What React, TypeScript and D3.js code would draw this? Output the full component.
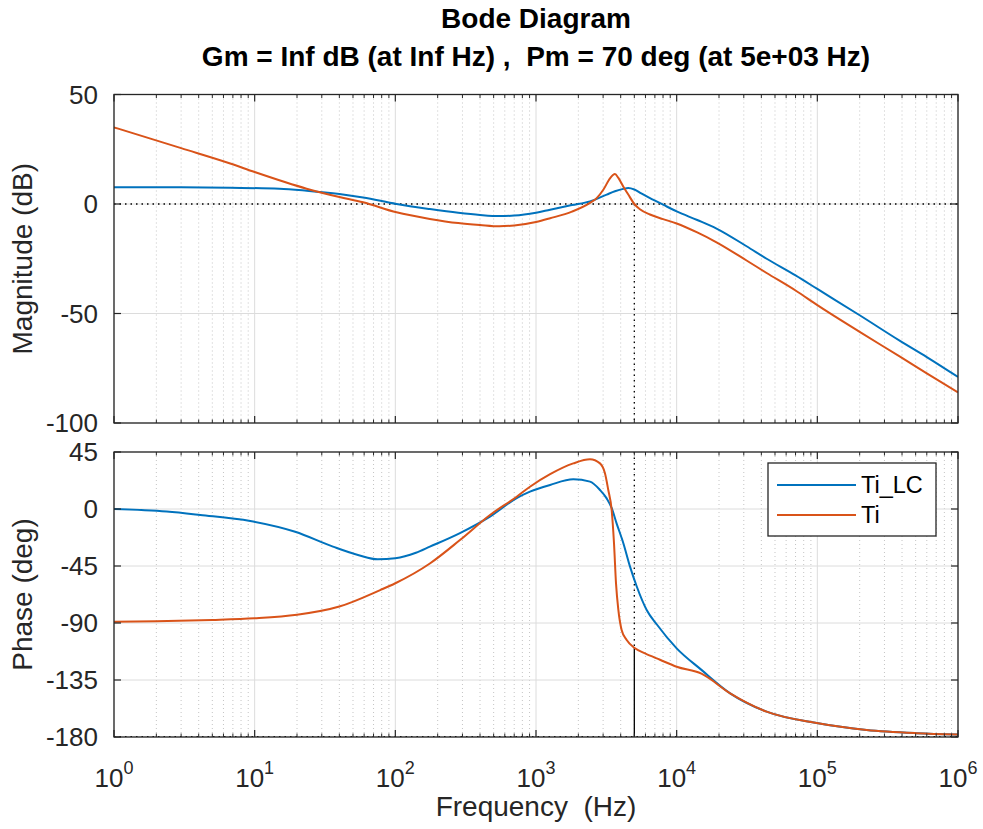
import React from "react";
import * as d3 from "d3";

// ---------- data ----------
const decadeExponents = [0, 1, 2, 3, 4, 5, 6];
const magTicks = [-100, -50, 0, 50];
const phaseTicks = [-180, -135, -90, -45, 0, 45];
const seriesNames = ["Ti_LC", "Ti"];

const magFreqLC = [1, 3, 6.7, 15, 23.4, 40, 59, 102, 176, 280, 400, 550, 700, 1000, 1260, 1800, 2420, 3180, 3640, 4170, 4530, 5000, 5600, 6460, 8000, 10000, 14000, 19200, 31400, 43600, 70000, 100000, 200000, 387000, 600000, 1000000];
const magLC = [7.6, 7.6, 7.4, 7.0, 6.1, 4.6, 3.0, 0.0, -2.3, -4.0, -5.0, -5.5, -5.3, -4.0, -2.6, -0.5, 1.2, 4.3, 5.8, 6.9, 7.3, 6.6, 4.8, 2.7, -0.3, -3.4, -7.3, -11.2, -19.3, -25.0, -32.6, -38.8, -50.8, -62.5, -69.9, -79];

const magFreqTi = [1, 3, 6.7, 10, 23.4, 40, 59, 102, 176, 280, 400, 550, 700, 1000, 1260, 1800, 2420, 2700, 3010, 3357, 3640, 3850, 4170, 4530, 5000, 5480, 6460, 8000, 10000, 14000, 19200, 31400, 43600, 70000, 100000, 200000, 387000, 600000, 1000000];
const magTi = [35, 25.5, 18.5, 14.6, 7.0, 3.2, 0.8, -3.8, -6.8, -8.7, -9.6, -10.2, -9.8, -8.2, -6.5, -3.5, 0.5, 2.7, 6.5, 11.7, 13.7, 11.9, 8.0, 4.3, 0.0, -2.4, -4.8, -6.9, -8.9, -13, -17.5, -25.8, -31.5, -39.5, -46.2, -58.4, -69.7, -77.3, -86];

const phaseFreqLC = [1, 2.37, 4.1, 9.3, 19.4, 36, 55, 75, 100, 140, 176, 288, 471, 729, 906, 1260, 1841, 2420, 2851, 3180, 3450, 3740, 4178, 4660, 5195, 6120, 7210, 10000, 15000, 24000, 43600, 98900, 224000, 508000, 1000000];
const phaseLC = [0, -2, -4.7, -9.5, -18, -29.7, -36.5, -39.7, -38.8, -34.5, -29.7, -19, -6, 8.6, 13.7, 19, 23.4, 21.6, 15, 8.4, 0.8, -11.3, -27, -45.5, -61, -79.7, -91, -110, -127, -145.5, -160, -169, -174.5, -177, -178];

const phaseFreqTi = [1, 2, 5, 10, 20, 40, 78, 100, 176, 288, 471, 729, 906, 1260, 1841, 2420, 2851, 3092, 3265, 3450, 3585, 3705, 3850, 4062, 4412, 5060, 5960, 7610, 10000, 15000, 24000, 43600, 98900, 224000, 508000, 1000000];
const phaseTi = [-89, -88.6, -87.6, -86.3, -83.5, -77, -64, -58.6, -43, -24.5, -4.7, 9.7, 17.6, 27.5, 36, 39.2, 36, 28.2, 15, -0.8, -27, -58.7, -79.7, -95.5, -103.4, -110, -114, -119, -124.5, -130, -145.5, -160, -169, -174.5, -177, -178];

const marginFreq = 5000;
const marginPhase = -110;
const titleLine1 = "Bode Diagram";
const titleLine2 = "Gm = Inf dB (at Inf Hz) ,  Pm = 70 deg (at 5e+03 Hz)";
const xLabel = "Frequency  (Hz)";
const magLabel = "Magnitude (dB)";
const phaseLabel = "Phase (deg)";

// ---------- layout ----------
const W = 983, H = 829;
const xL = 114, xR = 958;
const magTop = 94.5, magBot = 423;
const phTop = 452, phBot = 737;
const COLORS = ["#0072BD", "#D95319"];
const AXC = "#262626";
const FONT = "'Liberation Sans', Arial, Helvetica, sans-serif";
const TICK_FS = 26;

export default function App() {
  const x = d3.scaleLog().domain([1, 1e6]).range([xL, xR]);
  const yMag = d3.scaleLinear().domain([-100, 50]).range([magBot, magTop]);
  const yPh = d3.scaleLinear().domain([-180, 45]).range([phBot, phTop]);

  const minorFreqs: number[] = [];
  for (let d = 0; d < 6; d++) for (let k = 2; k <= 9; k++) minorFreqs.push(k * Math.pow(10, d));

  const mkLine = (y: any) =>
    d3.line<[number, number]>().x((d) => x(d[0])).y((d) => y(d[1])).curve(d3.curveMonotoneX);

  const magLine = mkLine(yMag);
  const phLine = mkLine(yPh);
  const zip = (a: number[], b: number[]) => a.map((v, i) => [v, b[i]] as [number, number]);

  const magSeries = [zip(magFreqLC, magLC), zip(magFreqTi, magTi)];
  const phSeries = [zip(phaseFreqLC, phaseLC), zip(phaseFreqTi, phaseTi)];

  const renderAxesFrame = (top: number, bot: number, y: any, ticks: number[], key: string) => (
    <g key={key}>
      <rect x={xL} y={top} width={xR - xL} height={bot - top} fill="#fff" />
      {minorFreqs.map((f) => (
        <line key={"mg" + f} x1={x(f)} x2={x(f)} y1={top} y2={bot} stroke="#c4c4c4" strokeWidth={1} strokeDasharray="1,3" />
      ))}
      {decadeExponents.map((e) => (
        <line key={"Mg" + e} x1={x(Math.pow(10, e))} x2={x(Math.pow(10, e))} y1={top} y2={bot} stroke="#dcdcdc" strokeWidth={1} />
      ))}
      {ticks.map((t) => (
        <line key={"hg" + t} x1={xL} x2={xR} y1={y(t)} y2={y(t)} stroke="#dcdcdc" strokeWidth={1} />
      ))}
    </g>
  );

  const renderAxesBox = (top: number, bot: number, y: any, ticks: number[], key: string) => (
    <g key={key}>
      <rect x={xL} y={top} width={xR - xL} height={bot - top} fill="none" stroke={AXC} strokeWidth={1.3} />
      {decadeExponents.map((e) => {
        const xx = x(Math.pow(10, e));
        return (
          <g key={"t" + e}>
            <line x1={xx} x2={xx} y1={bot} y2={bot - 7} stroke={AXC} strokeWidth={1.2} />
            <line x1={xx} x2={xx} y1={top} y2={top + 7} stroke={AXC} strokeWidth={1.2} />
          </g>
        );
      })}
      {minorFreqs.map((f) => (
        <g key={"mt" + f}>
          <line x1={x(f)} x2={x(f)} y1={bot} y2={bot - 3.5} stroke={AXC} strokeWidth={1} />
          <line x1={x(f)} x2={x(f)} y1={top} y2={top + 3.5} stroke={AXC} strokeWidth={1} />
        </g>
      ))}
      {ticks.map((t) => (
        <g key={"yt" + t}>
          <line x1={xL} x2={xL + 7} y1={y(t)} y2={y(t)} stroke={AXC} strokeWidth={1.2} />
          <line x1={xR} x2={xR - 7} y1={y(t)} y2={y(t)} stroke={AXC} strokeWidth={1.2} />
          <text x={98} y={y(t)} dy="0.36em" textAnchor="end" fontSize={TICK_FS} fill={AXC} fontFamily={FONT}>
            {t}
          </text>
        </g>
      ))}
    </g>
  );

  const xm = x(marginFreq);

  return (
    <svg width={W} height={H} style={{ position: "absolute", left: 0, top: 0, background: "#fff" }} fontFamily={FONT}>
      <rect x={0} y={0} width={W} height={H} fill="#fff" />
      <defs>
        <clipPath id="clipMag"><rect x={xL} y={magTop} width={xR - xL} height={magBot - magTop} /></clipPath>
        <clipPath id="clipPh"><rect x={xL} y={phTop} width={xR - xL} height={phBot - phTop} /></clipPath>
      </defs>

      <text x={536} y={28} textAnchor="middle" fontSize={28} fontWeight="bold" fill="#000">{titleLine1}</text>
      <text x={536} y={66} textAnchor="middle" fontSize={28} fontWeight="bold" fill="#000" style={{ whiteSpace: "pre" }}>{titleLine2}</text>

      {renderAxesFrame(magTop, magBot, yMag, magTicks, "fm")}
      {renderAxesFrame(phTop, phBot, yPh, phaseTicks, "fp")}

      <g clipPath="url(#clipMag)">
        <line x1={xL} x2={xR} y1={yMag(0)} y2={yMag(0)} stroke="#000" strokeWidth={1.3} strokeDasharray="1.5,4" />
        <line x1={xm} x2={xm} y1={yMag(0)} y2={magBot} stroke="#000" strokeWidth={1.3} strokeDasharray="1.5,4" />
        {magSeries.map((s, i) => (
          <path key={"m" + i} d={magLine(s) || ""} fill="none" stroke={COLORS[i]} strokeWidth={2} />
        ))}
      </g>

      <g clipPath="url(#clipPh)">
        <line x1={xL} x2={xR} y1={yPh(-180)} y2={yPh(-180)} stroke="#000" strokeWidth={2} strokeDasharray="1.5,4" />
        <line x1={xm} x2={xm} y1={phTop} y2={yPh(marginPhase)} stroke="#000" strokeWidth={1.3} strokeDasharray="1.5,4" />
        <line x1={xm} x2={xm} y1={yPh(marginPhase)} y2={phBot} stroke="#000" strokeWidth={1.3} />
        {phSeries.map((s, i) => (
          <path key={"p" + i} d={phLine(s) || ""} fill="none" stroke={COLORS[i]} strokeWidth={2} />
        ))}
      </g>

      {renderAxesBox(magTop, magBot, yMag, magTicks, "bm")}
      {renderAxesBox(phTop, phBot, yPh, phaseTicks, "bp")}

      {decadeExponents.map((e) => (
        <text key={"xl" + e} x={x(Math.pow(10, e))} y={787} textAnchor="middle" fontSize={TICK_FS} fill={AXC}>
          10<tspan dy={-13} fontSize={18}>{e}</tspan>
        </text>
      ))}

      <text x={536} y={816} textAnchor="middle" fontSize={28} fill={AXC} style={{ whiteSpace: "pre" }}>{xLabel}</text>
      <text transform={`translate(32,${(magTop + magBot) / 2}) rotate(-90)`} textAnchor="middle" fontSize={28} fill={AXC}>{magLabel}</text>
      <text transform={`translate(32,${(phTop + phBot) / 2}) rotate(-90)`} textAnchor="middle" fontSize={28} fill={AXC}>{phaseLabel}</text>

      <g>
        <rect x={768} y={463} width={168} height={73} fill="#fff" stroke={AXC} strokeWidth={1.3} />
        {seriesNames.map((n, i) => (
          <g key={n}>
            <line x1={777} x2={856} y1={485 + i * 30} y2={485 + i * 30} stroke={COLORS[i]} strokeWidth={2} />
            <text x={861} y={485 + i * 30} dy="0.36em" fontSize={23.5} fill="#000">{n}</text>
          </g>
        ))}
      </g>
    </svg>
  );
}
